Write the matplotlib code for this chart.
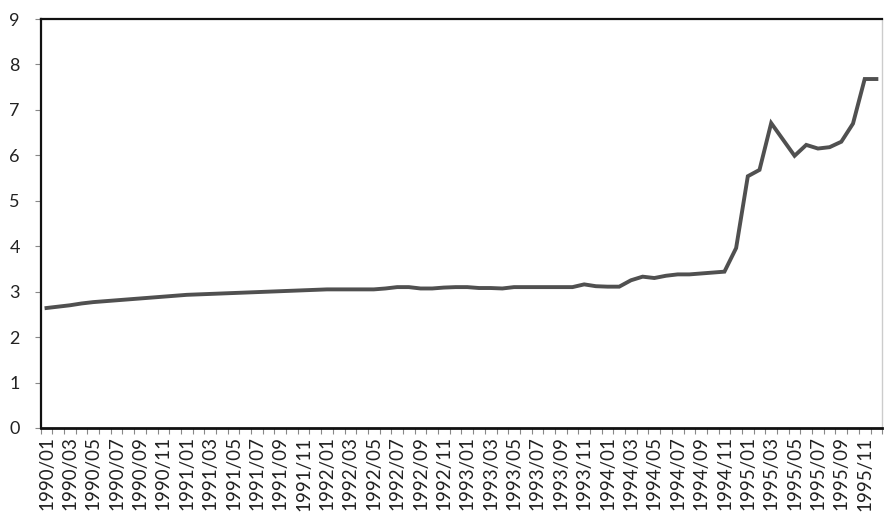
import matplotlib
matplotlib.use("Agg")
import matplotlib.pyplot as plt
import numpy as np

plt.rcParams['font.family'] = ['Lato', 'DejaVu Sans']

years = [1990, 1991, 1992, 1993, 1994, 1995]
months = list(range(1, 13))
labels = [f"{y}/{m:02d}" for y in years for m in months]

v1990 = [2.64, 2.67, 2.70, 2.74, 2.77, 2.79, 2.81, 2.83, 2.85, 2.87, 2.89, 2.91]
v1991 = [2.93, 2.94, 2.95, 2.96, 2.97, 2.98, 2.99, 3.00, 3.01, 3.02, 3.03, 3.04]
v1992 = [3.05, 3.05, 3.05, 3.05, 3.05, 3.07, 3.10, 3.10, 3.07, 3.07, 3.09, 3.10]
v1993 = [3.10, 3.08, 3.08, 3.07, 3.10, 3.10, 3.10, 3.10, 3.10, 3.10, 3.16, 3.12]
v1994 = [3.11, 3.11, 3.25, 3.33, 3.30, 3.35, 3.38, 3.38, 3.40, 3.42, 3.44, 3.96]
v1995 = [5.54, 5.68, 6.71, 6.35, 5.99, 6.23, 6.15, 6.18, 6.30, 6.70, 7.68, 7.68]
values = v1990 + v1991 + v1992 + v1993 + v1994 + v1995

yticks = list(range(0, 10))

fig = plt.figure(figsize=(8.84, 5.29), dpi=100)
ax = fig.add_axes([0.046, 0.191, 0.952, 0.773])

x = np.arange(len(values))
ax.plot(x, values, color='#505050', linewidth=2.8, solid_joinstyle='miter')

ax.set_xlim(-0.5, len(values) - 0.5)
ax.set_ylim(0, 9)
ax.set_yticks(yticks)
ax.set_yticklabels([str(t) for t in yticks], fontsize=13, color='#222222')

ax.set_xticks(x[::2])
ax.set_xticklabels(labels[::2], rotation=90, fontsize=13.5, color='#222222')
ax.tick_params(axis='x', which='major', length=0, pad=6)
ax.set_xticks(np.arange(-0.5, len(values), 1), minor=True)
ax.tick_params(axis='x', which='minor', length=4, width=0.8, color='#888888', direction='out')
ax.tick_params(axis='y', which='major', length=4, width=0.8, color='#888888', pad=11)

for s in ['left', 'top', 'bottom']:
    ax.spines[s].set_color('#111111')
    ax.spines[s].set_linewidth(1.6)
ax.spines['bottom'].set_linewidth(2.0)
ax.spines['right'].set_color('#cccccc')
ax.spines['right'].set_linewidth(1.0)

fig.savefig('out.png', dpi=100)
